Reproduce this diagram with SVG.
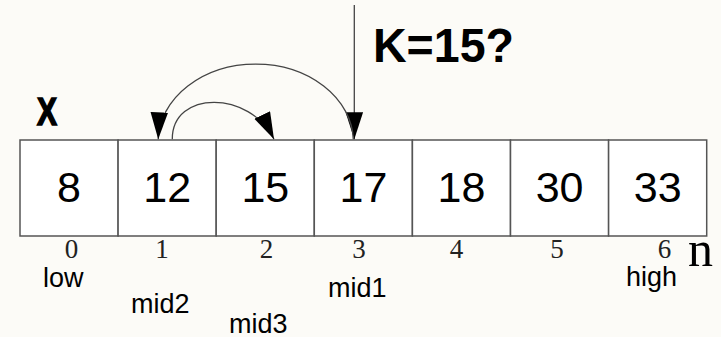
<svg xmlns="http://www.w3.org/2000/svg" width="721" height="337" viewBox="0 0 721 337">
<style>
.cell{fill:#ffffff;stroke:#555555;stroke-width:1.5}
.val{font-family:"Liberation Sans",Arial,sans-serif;font-size:43px;fill:#000;text-anchor:middle}
.idx{font-family:"Liberation Serif","Times New Roman",serif;font-size:27px;fill:#222;text-anchor:middle}
.lbl{font-family:"Liberation Sans",Arial,sans-serif;font-size:27px;fill:#000}
.bold{font-family:"Liberation Sans",Arial,sans-serif;font-weight:bold;fill:#000}
.conn{fill:none;stroke:#444444;stroke-width:1.3}
</style>
<defs>
<marker id="ah" markerUnits="userSpaceOnUse" markerWidth="28" markerHeight="18" refX="27" refY="8.75" orient="auto" viewBox="0 0 28 18">
<path d="M0,0 L27,8.75 L0,17.5 z" fill="#000"/>
</marker>
</defs>
<rect x="0" y="0" width="721" height="337" fill="#fcfbf7"/>
<g id="nodes">
<g id="cell0"><rect class="cell" x="20" y="140" width="98.1" height="96"/><text class="val" x="69" y="202">8</text></g>
<g id="cell1"><rect class="cell" x="118.1" y="140" width="98.1" height="96"/><text class="val" x="167.2" y="202">12</text></g>
<g id="cell2"><rect class="cell" x="216.2" y="140" width="98.1" height="96"/><text class="val" x="265.3" y="202">15</text></g>
<g id="cell3"><rect class="cell" x="314.3" y="140" width="98.1" height="96"/><text class="val" x="363.4" y="202">17</text></g>
<g id="cell4"><rect class="cell" x="412.4" y="140" width="98.1" height="96"/><text class="val" x="461.5" y="202">18</text></g>
<g id="cell5"><rect class="cell" x="510.5" y="140" width="98.1" height="96"/><text class="val" x="559.6" y="202">30</text></g>
<g id="cell6"><rect class="cell" x="608.6" y="140" width="98.1" height="96"/><text class="val" x="657.7" y="202">33</text></g>
</g>
<g id="indices">
<text class="idx" x="71.5" y="258">0</text>
<text class="idx" x="162" y="258">1</text>
<text class="idx" x="266.5" y="258">2</text>
<text class="idx" x="359" y="258">3</text>
<text class="idx" x="456.5" y="258">4</text>
<text class="idx" x="557" y="258">5</text>
<text class="idx" x="664.5" y="258">6</text>
<text x="688" y="266" font-family="'Liberation Serif','Times New Roman',serif" font-size="50" fill="#000">n</text>
</g>
<g id="labels">
<text class="lbl" x="43" y="286.5">low</text>
<text class="lbl" x="131" y="312.5">mid2</text>
<text class="lbl" x="229" y="332.5">mid3</text>
<text class="lbl" x="328" y="297">mid1</text>
<text class="lbl" x="626" y="286">high</text>
<text class="bold" x="37" y="125" font-size="39" textLength="20" lengthAdjust="spacingAndGlyphs" stroke="#000" stroke-width="1.6">X</text>
<text class="bold" x="373" y="62" font-size="48" textLength="141" lengthAdjust="spacingAndGlyphs">K=15?</text>
</g>
<g id="connectors">
<path class="conn" d="M354.3,5 L354.3,139.3" marker-end="url(#ah)"/>
<path class="conn" d="M353.3,139.3 A97.6 77.6 0 0 0 158.2,139.3" marker-end="url(#ah)"/>
<path class="conn" d="M172.3,139.3 C172,90 250,90 274,139.3" marker-end="url(#ah)"/>
</g>
</svg>
